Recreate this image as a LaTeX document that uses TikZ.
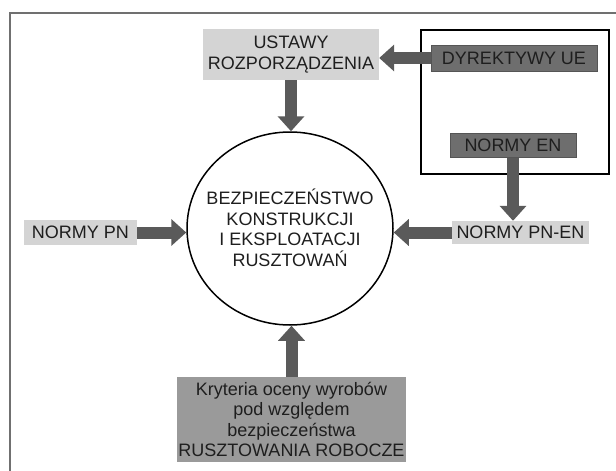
\documentclass[tikz,border=0pt]{standalone}
\usepackage{fontspec}
\setmainfont{Liberation Sans}
\usetikzlibrary{arrows.meta,shapes.geometric}
\definecolor{lightbox}{HTML}{D4D4D4}
\definecolor{darkbox}{HTML}{6E6E6E}
\definecolor{darkborder}{HTML}{555555}
\definecolor{midbox}{HTML}{9A9A9A}
\definecolor{arrowc}{HTML}{5A5A5A}
\definecolor{textc}{HTML}{1E1E1E}
\definecolor{framec}{HTML}{707070}
\begin{document}
\begin{tikzpicture}[x=1pt,y=-1pt,
  txt/.style={font=\fontsize{18}{20.5}\selectfont, text=textc, align=center, inner sep=0pt},
  lbox/.style={txt, rectangle, fill=lightbox},
  dbox/.style={txt, rectangle, fill=darkbox, draw=darkborder, line width=1pt},
  mbox/.style={txt, rectangle, fill=midbox},
  bigarrow/.style={draw=arrowc, line width=12pt, -{Triangle[length=15pt,width=26pt]}}
]
\fill[white] (0,0) rectangle (616,471);
\useasboundingbox (0,0) rectangle (616,471);
% outer frame (top and left edges)
\draw[framec, line width=1.6pt] (10,471) -- (10,13) -- (616,13);
% EU frame
\node[draw=black, line width=1.8pt, minimum width=188pt, minimum height=144pt, inner sep=0pt] (euframe) at (515,102) {};
% boxes
\node[lbox, minimum width=176pt, minimum height=51pt] (ust) at (291,54.5) {USTAWY\\ROZPORZĄDZENIA};
\node[dbox, minimum width=166pt, minimum height=26pt] (dyr) at (514,58) {DYREKTYWY UE};
\node[dbox, minimum width=126pt, minimum height=24pt] (normen) at (513,145) {NORMY EN};
\node[lbox, minimum width=137pt, minimum height=23pt] (pnen) at (520.5,232.5) {NORMY PN-EN};
\node[lbox, minimum width=113pt, minimum height=25pt] (pn) at (80.5,232.5) {NORMY PN};
\node[mbox, minimum width=229pt, minimum height=85pt] (krit) at (291.5,419.5) {Kryteria oceny wyrobów\\pod względem\\bezpieczeństwa\\RUSZTOWANIA ROBOCZE};
% central ellipse
\node[ellipse, draw=black, line width=1.5pt, fill=white, minimum width=206pt, minimum height=193pt, inner sep=0pt] (circ) at (290,228.5) {};
\node[txt] (circtext) at (290,228) {BEZPIECZEŃSTWO\\KONSTRUKCJI\\I EKSPLOATACJI\\RUSZTOWAŃ};
% arrows
\draw[bigarrow] (dyr.west) -- (dyr.west -| ust.east);
\draw[bigarrow] (ust.south) -- (ust.south |- circ.north);
\draw[bigarrow] (normen.south) -- (normen.south |- pnen.north);
\draw[bigarrow] (pnen.west) -- (pnen.west -| circ.east);
\draw[bigarrow] (pn.east) -- (pn.east -| circ.west);
\draw[bigarrow] (krit.north) -- (krit.north |- circ.south);
\end{tikzpicture}
\end{document}
